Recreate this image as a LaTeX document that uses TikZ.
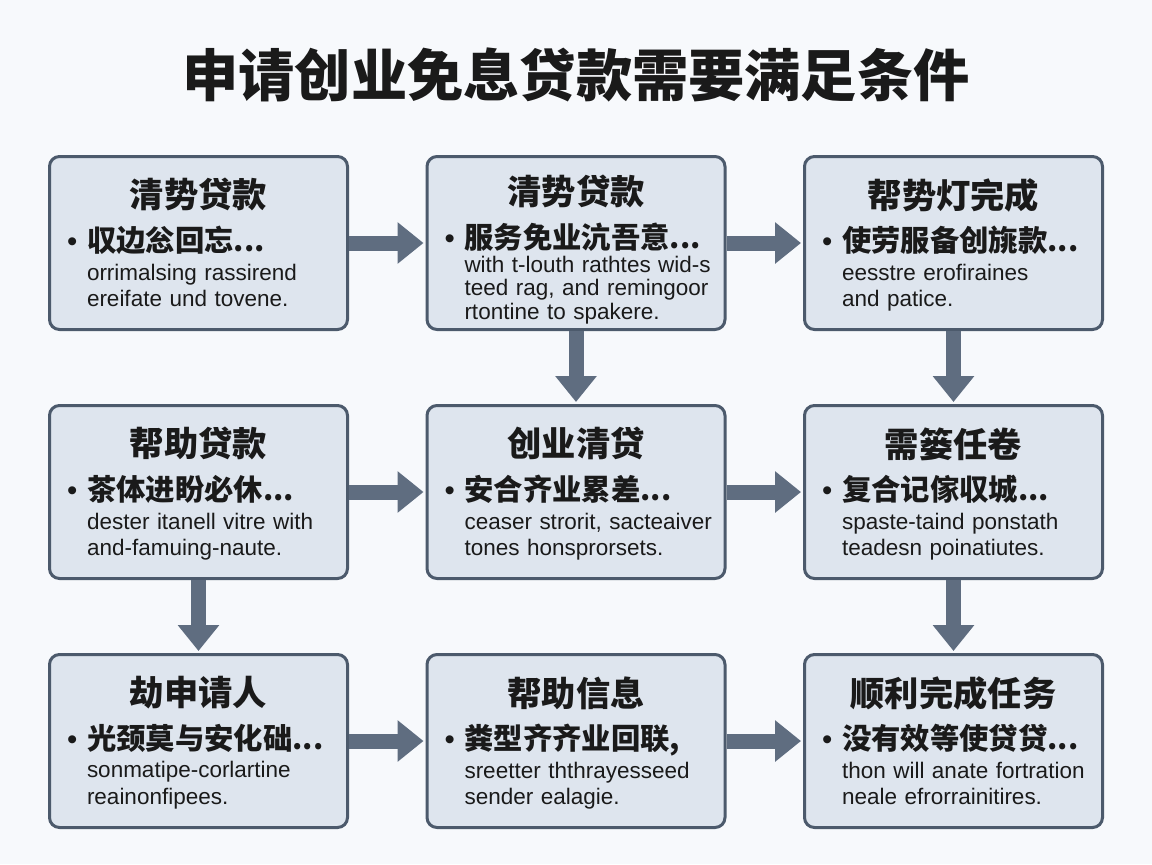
\documentclass[tikz,border=0pt]{standalone}
\usepackage{fontspec}
\setmainfont{Liberation Sans}
\newfontfamily\cjk{Noto Sans CJK SC}
\usepackage{tikz}
\usetikzlibrary{arrows.meta}
\usetikzlibrary{positioning}

\definecolor{pageBg}{HTML}{F7F9FC}
\definecolor{cardFill}{HTML}{DEE5EE}
\definecolor{cardLine}{HTML}{4C5A6C}
\definecolor{flowGray}{HTML}{5F6D80}
\definecolor{inkBlack}{HTML}{1A1A1A}

\setlength{\parindent}{0pt}
\hyphenpenalty=10000
\newcommand{\cardHead}{\centering\cjk\bfseries\fontsize{19.5pt}{24pt}\selectfont}
\newcommand{\cardLead}{\leftskip=1.27cm\relax\cjk\bfseries\fontsize{16.7pt}{24.8pt}\selectfont
  \leavevmode\llap{\makebox[0.4cm][l]{\rmfamily\mdseries •}}}
\newcommand{\cardBody}{\vspace{1.4pt}\leftskip=1.27cm\relax\fontsize{12.8pt}{14.9pt}\selectfont}
\newcommand{\cardBodyTight}{\leftskip=1.27cm\relax\fontsize{12.8pt}{13.4pt}\selectfont}

\begin{document}
\begin{tikzpicture}[
    node distance=1.46cm and 1.53cm,
    card/.style={
        rectangle, draw=cardLine, fill=cardFill, line width=0.06cm,
        rounded corners=0.2cm,
        minimum width=5.96cm,
        minimum height=3.46cm
    },
    cardText/.style={
        text width=7cm, align=left, inner sep=0pt, text=inkBlack,
        font=\fontsize{12.8pt}{14.9pt}\selectfont
    },
    flowArrow/.style={
        draw=flowGray, line width=0.3cm, shorten >=0.04cm,
        -{Triangle[width=0.8cm,length=0.52cm]}
    }
]
\useasboundingbox (0,0) rectangle (23.04,-17.28);
\fill[pageBg] (0,0) rectangle (23.04,-17.28);

\node[font=\cjk\bfseries\fontsize{32pt}{36pt}\selectfont, text=inkBlack] (pageTitle) at (11.52,-1.5) {申请创业免息贷款需要满足条件};

% boxes
\node[card] (loanA) at (3.97,-4.86) {};
\node[card, right=of loanA] (loanB) {};
\node[card, right=of loanB] (doneA) {};
\node[card, below=of loanA] (helpLoan) {};
\node[card, right=of helpLoan] (startLoan) {};
\node[card, right=of startLoan] (taskNeed) {};
\node[card, below=of helpLoan] (applicant) {};
\node[card, right=of applicant] (helpInfo) {};
\node[card, right=of helpInfo] (finish) {};

% texts
\node[cardText, below=0.46cm of loanA.north] (loanAtxt) {%
    {\cardHead 清势贷款\par}
    {\cardLead 収边忩回忘...\par}
    {\cardBody orrimalsing rassirend\\ ereifate und tovene.\par}};
\node[cardText, below=0.40cm of loanB.north] (loanBtxt) {%
    {\cardHead 清势贷款\par}
    {\cardLead 服务免业沆吾意...\par}
    {\cardBodyTight with t-louth rathtes wid-s\\ teed rag, and remingoor\\ rtontine to spakere.\par}};
\node[cardText, below=0.46cm of doneA.north] (doneAtxt) {%
    {\cardHead 帮势灯完成\par}
    {\cardLead 使劳服备创旐款...\par}
    {\cardBody eesstre erofiraines\\ and patice.\par}};
\node[cardText, below=0.46cm of helpLoan.north] (helpLoantxt) {%
    {\cardHead 帮助贷款\par}
    {\cardLead 茶体进盼必休...\par}
    {\cardBody dester itanell vitre with\\ and-famuing-naute.\par}};
\node[cardText, below=0.46cm of startLoan.north] (startLoantxt) {%
    {\cardHead 创业清贷\par}
    {\cardLead 安合齐业累差...\par}
    {\cardBody ceaser strorit, sacteaiver\\ tones honsprorsets.\par}};
\node[cardText, below=0.46cm of taskNeed.north] (taskNeedtxt) {%
    {\cardHead 需篓任卷\par}
    {\cardLead 复合记傢収城...\par}
    {\cardBody spaste-taind ponstath\\ teadesn poinatiutes.\par}};
\node[cardText, below=0.46cm of applicant.north] (applicanttxt) {%
    {\cardHead 劫申请人\par}
    {\cardLead 光颈莫与安化础...\par}
    {\cardBody sonmatipe-corlartine\\ reainonfipees.\par}};
\node[cardText, below=0.46cm of helpInfo.north] (helpInfotxt) {%
    {\cardHead 帮助信息\par}
    {\cardLead 粪型齐齐业回联,\par}
    {\cardBody sreetter ththrayesseed\\ sender ealagie.\par}};
\node[cardText, below=0.46cm of finish.north] (finishtxt) {%
    {\cardHead 顺利完成任务\par}
    {\cardLead 没有效等使贷贷...\par}
    {\cardBody thon will anate fortration\\ neale efrorrainitires.\par}};

% arrows
\draw[flowArrow] (loanA) -- (loanB);
\draw[flowArrow] (loanB) -- (doneA);
\draw[flowArrow] (loanB) -- (startLoan);
\draw[flowArrow] (doneA) -- (taskNeed);
\draw[flowArrow] (helpLoan) -- (startLoan);
\draw[flowArrow] (startLoan) -- (taskNeed);
\draw[flowArrow] (helpLoan) -- (applicant);
\draw[flowArrow] (taskNeed) -- (finish);
\draw[flowArrow] (applicant) -- (helpInfo);
\draw[flowArrow] (helpInfo) -- (finish);
\end{tikzpicture}
\end{document}
